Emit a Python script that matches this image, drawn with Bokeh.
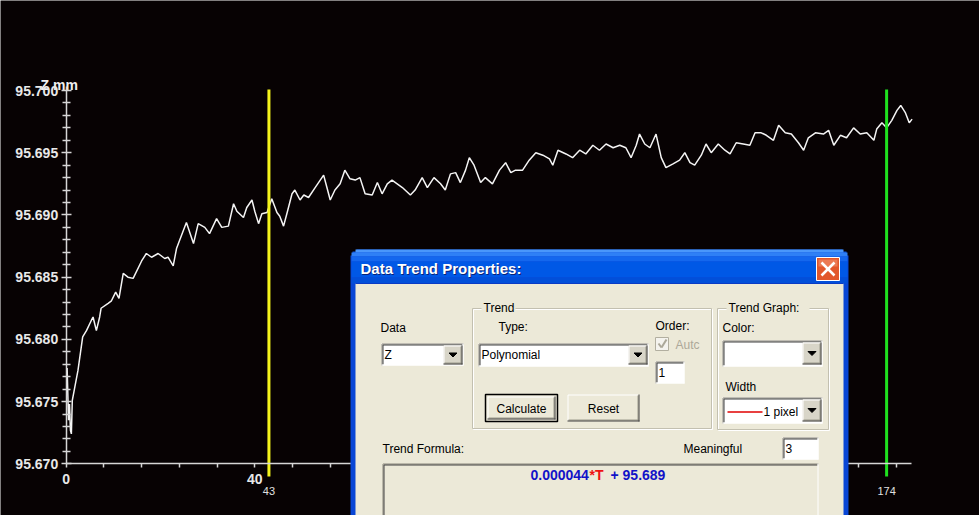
from bokeh.plotting import figure
from bokeh.models import Range1d, LinearAxis, FixedTicker, PrintfTickFormatter
from bokeh.core.properties import value
from bokeh.embed import file_html
from bokeh.resources import INLINE

# ---- measured Z trace (time T, height Z in mm) ----
t = [
    0.2, 0.5, 0.7, 0.9, 1.1, 1.3, 1.7, 2.5, 3.5, 4.3,
    5.3, 5.7, 6.4, 7.1, 7.4, 8.9, 9.6, 10.5, 11.2, 12.1,
    13.1, 14.2, 16.0, 17.0, 18.1, 19.5, 20.9, 21.6, 22.7, 23.4,
    24.0, 25.5, 27.0, 28.0, 29.4, 30.4, 31.9, 33.0, 34.4, 35.5,
    36.2, 37.6, 38.3, 39.4, 40.0, 40.8, 41.5, 42.6, 43.6, 44.7,
    45.3, 46.1, 46.8, 47.9, 48.5, 49.6, 50.4, 51.4, 52.8, 54.6,
    55.3, 56.0, 57.0, 58.1, 59.1, 60.2, 61.3, 62.3, 63.4, 64.9,
    66.0, 67.0, 68.1, 69.1, 71.3, 73.0, 74.0, 75.5, 76.6, 78.0,
    79.4, 80.4, 81.5, 82.6, 83.6, 84.7, 85.5, 86.5, 87.9, 88.9,
    90.4, 91.9, 93.2, 94.3, 95.3, 96.8, 98.2, 99.6, 101.1, 102.5,
    103.2, 104.3, 106.0, 107.4, 108.9, 110.2, 111.7, 113.1, 114.5, 116.0,
    117.4, 118.7, 119.8, 120.9, 121.6, 122.7, 123.8, 125.1, 126.2, 127.2,
    128.7, 130.1, 131.2, 132.3, 133.3, 134.7, 135.7, 136.8, 138.3, 139.7,
    140.8, 142.1, 143.6, 145.0, 146.1, 147.4, 148.5, 150.0, 151.1, 152.5,
    153.8, 155.3, 156.4, 157.4, 158.9, 160.6, 161.7, 162.8, 164.2, 165.5,
    167.0, 168.4, 169.8, 171.3, 171.9, 173.0, 174.0, 175.1, 176.2, 177.0,
    178.0, 178.8, 179.4,
]
z = [
    95.6777, 95.6735, 95.6748, 95.6727, 95.6724, 95.6751, 95.6759, 95.6775, 95.6802, 95.6807,
    95.6815, 95.6818, 95.6807, 95.6818, 95.6825, 95.6829, 95.6831, 95.6838, 95.6833, 95.6853,
    95.6850, 95.6849, 95.6863, 95.6869, 95.6866, 95.6869, 95.6865, 95.6866, 95.6859, 95.6873,
    95.6879, 95.6894, 95.6877, 95.6893, 95.6890, 95.6885, 95.6897, 95.6890, 95.6891, 95.6909,
    95.6903, 95.6898, 95.6906, 95.6912, 95.6903, 95.6893, 95.6901, 95.6902, 95.6913, 95.6902,
    95.6899, 95.6891, 95.6901, 95.6917, 95.6920, 95.6912, 95.6916, 95.6914, 95.6922, 95.6932,
    95.6922, 95.6912, 95.6920, 95.6925, 95.6936, 95.6929, 95.6928, 95.6930, 95.6917, 95.6916,
    95.6926, 95.6917, 95.6925, 95.6928, 95.6922, 95.6916, 95.6920, 95.6930, 95.6922, 95.6930,
    95.6925, 95.6920, 95.6933, 95.6934, 95.6926, 95.6936, 95.6946, 95.6940, 95.6926, 95.6930,
    95.6925, 95.6936, 95.6942, 95.6934, 95.6936, 95.6936, 95.6944, 95.6950, 95.6948, 95.6945,
    95.6940, 95.6952, 95.6949, 95.6946, 95.6952, 95.6949, 95.6956, 95.6952, 95.6957, 95.6954,
    95.6956, 95.6954, 95.6946, 95.6956, 95.6965, 95.6957, 95.6954, 95.6965, 95.6946, 95.6938,
    95.6941, 95.6944, 95.6950, 95.6942, 95.6940, 95.6948, 95.6957, 95.6950, 95.6957, 95.6952,
    95.6949, 95.6958, 95.6957, 95.6956, 95.6966, 95.6966, 95.6964, 95.6960, 95.6972, 95.6966,
    95.6965, 95.6958, 95.6952, 95.6962, 95.6966, 95.6965, 95.6968, 95.6956, 95.6964, 95.6962,
    95.6970, 95.6965, 95.6966, 95.6960, 95.6969, 95.6974, 95.6970, 95.6976, 95.6984, 95.6988,
    95.6982, 95.6974, 95.6977,
]

# cursors
cursor_t = [43, 174]
cursor_text = ["43", "174"]
cursor_color = ["#f4f41c", "#1fe21f"]

# axis ticks
x_major = [0, 40, 80, 120, 160]
x_minor = [8, 16, 24, 32, 48, 56, 64, 72, 88, 96, 104, 112, 128, 136, 144, 152, 168, 176]
y_major = [95.670, 95.675, 95.680, 95.685, 95.690, 95.695, 95.700]
y_minor = [95.671, 95.672, 95.673, 95.674, 95.676, 95.677, 95.678, 95.679,
           95.681, 95.682, 95.683, 95.684, 95.686, 95.687, 95.688, 95.689,
           95.691, 95.692, 95.693, 95.694, 95.696, 95.697, 95.698, 95.699]

# trend result shown in the dialog
trend_slope = "0.000044"
trend_var = "*T"
trend_icpt = "+ 95.689"

BG = "#070203"
FONT = value("Liberation Sans")

p = figure(width=979, height=515, output_backend="svg", toolbar_location=None,
           x_axis_type=None, y_axis_type=None, min_border=0,
           x_range=Range1d(-13.93, 193.7), y_range=Range1d(95.665845, 95.707233))
p.background_fill_color = BG
p.border_fill_color = BG
p.outline_line_color = None
p.extra_x_ranges = {"px": Range1d(0, 979)}
p.extra_y_ranges = {"px": Range1d(515, 0)}

xaxis = LinearAxis(fixed_location=95.670, bounds=(0, 179.3),
                   ticker=FixedTicker(ticks=x_major, minor_ticks=x_minor))
yaxis = LinearAxis(fixed_location=0, bounds=(95.670, 95.7003),
                   ticker=FixedTicker(ticks=y_major, minor_ticks=y_minor),
                   formatter=PrintfTickFormatter(format="%.3f"))
for ax in (xaxis, yaxis):
    ax.axis_line_color = "#d6d6d6"
    ax.axis_line_width = 1.5
    ax.major_tick_line_color = "#d6d6d6"
    ax.minor_tick_line_color = "#d6d6d6"
    ax.major_tick_line_width = 1.5
    ax.minor_tick_line_width = 1.5
    ax.major_label_text_color = "#e8e8e8"
    ax.major_label_text_font = "Liberation Sans"
    ax.major_label_text_font_style = "bold"
    ax.major_label_text_font_size = "14px"
xaxis.major_tick_out, xaxis.major_tick_in = 4, 0
xaxis.minor_tick_out, xaxis.minor_tick_in = 4, 0
xaxis.major_label_standoff = 6
yaxis.major_tick_out, yaxis.major_tick_in = 5, 5
yaxis.minor_tick_out, yaxis.minor_tick_in = 4, 4
yaxis.major_label_standoff = 3
p.add_layout(xaxis, "below")
p.add_layout(yaxis, "left")

# data trace
p.line(t, z, line_color="#f4f4f4", line_width=1.5)

# cursors
for ct, cc in zip(cursor_t, cursor_color):
    p.segment(x0=[ct], y0=[95.70008], x1=[ct], y1=[95.66898], line_color=cc, line_width=3)
p.text(x=cursor_t, y=[95.66785] * 2, text=cursor_text, text_font=FONT,
       text_font_size="11px", text_color="#e0e0e0", text_align="center",
       text_baseline="middle")

PX = dict(x_range_name="px", y_range_name="px")
OV = dict(x_range_name="px", y_range_name="px", level="overlay")

# axis unit caption
p.text(x=[40], y=[84], text=["Z mm"], text_font=FONT, text_font_size="14px",
       text_font_style="bold", text_color="#f0f0f0", text_baseline="middle", **PX)


# ---- dialog window drawn in screen pixels ----
def box(l, t_, r, b, fill, line=None, lw=1):
    p.quad(left=[l], right=[r], top=[t_], bottom=[b], fill_color=fill,
           line_color=line, line_width=lw, **OV)


def seg(x0, y0, x1, y1, color, lw=1):
    p.segment(x0=[x0], y0=[y0], x1=[x1], y1=[y1], line_color=color, line_width=lw, **OV)


def txt(x, y, s, size="12px", color="#000000", bold=False, align="left"):
    p.text(x=[x], y=[y], text=[s], text_font=FONT, text_font_size=size,
           text_color=color, text_font_style="bold" if bold else "normal",
           text_align=align, text_baseline="middle", **OV)


def sunken(l, t_, r, b, fill="#ffffff"):
    box(l, t_, r, b, fill)
    seg(l + .5, t_ + .5, r, t_ + .5, "#8a877c")
    seg(l + .5, t_ + .5, l + .5, b, "#8a877c")
    seg(l + 1.5, t_ + 1.5, r - 1, t_ + 1.5, "#404040")
    seg(l + 1.5, t_ + 1.5, l + 1.5, b - 1, "#404040")
    seg(l, b - .5, r, b - .5, "#ffffff")
    seg(r - .5, t_, r - .5, b, "#ffffff")


def raised(l, t_, r, b, fill="#ece9d8", dark="#404040"):
    box(l, t_, r, b, fill)
    seg(l + .5, t_ + .5, r - 1, t_ + .5, "#ffffff")
    seg(l + .5, t_ + .5, l + .5, b - 1, "#ffffff")
    seg(l + 1, b - 1.5, r - 1, b - 1.5, "#9d9a8c")
    seg(r - 1.5, t_ + 1, r - 1.5, b - 1, "#9d9a8c")
    seg(l, b - .5, r, b - .5, dark)
    seg(r - .5, t_, r - .5, b, dark)


def drop_button(l, t_, r, b):
    raised(l, t_, r, b, fill="#d8d5c8")
    cx, cy = (l + r) / 2, (t_ + b) / 2
    p.patch(x=[cx - 4, cx + 4, cx], y=[cy - 2, cy - 2, cy + 2], fill_color="#000000",
            line_color="#000000", **OV)


def group(l, t_, r, b, label, lx):
    box(l + 1, t_ + 1, r + 1, b + 1, None, line="#ffffff")
    box(l, t_, r, b, None, line="#c3c0b0")
    w = 7.0 * len(label)
    box(lx - 2, t_ - 6, lx + w - 3, t_ + 3, "#ece9d8")
    txt(lx, t_ - 1, label)


# frame and title bar
box(356, 249, 842, 515, "#0a4fdc")
box(352, 251, 846, 515, "#0a4fdc")
box(350, 255, 848, 515, "#0846d6")
for top, bot, col in [(249, 252, "#4a97fb"), (252, 256, "#2f80f6"), (256, 261, "#1467ee"),
                      (261, 277, "#0058e6"), (277, 283, "#024fd9")]:
    box(351 if top > 250 else 355, top, 847 if top > 250 else 843, bot, col)
box(355, 283, 843, 515, "#ece9d8")
seg(355, 283, 843, 283, "#0a3bc4")
txt(361, 269, "Data Trend Properties:", size="15px", color="#0a2378", bold=True)
txt(360, 268, "Data Trend Properties:", size="15px", color="#ffffff", bold=True)

# close button
box(816, 257, 839, 280, "#e2572c", line="#ffffff", lw=1)
box(818, 259, 837, 266, "#ec7a54")
seg(821, 262, 834, 275, "#ffffff", lw=2.5)
seg(834, 262, 821, 275, "#ffffff", lw=2.5)

# data selector
txt(380, 327, "Data")
sunken(381, 343, 463, 365)
txt(384, 354, "Z")
drop_button(443, 345, 462, 364)

# trend group
group(472, 308, 711, 428, "Trend", 483)
txt(498, 326, "Type:")
sunken(478, 343, 648, 366)
txt(481, 354, "Polynomial")
drop_button(628, 345, 647, 364)
txt(655, 325, "Order:")
box(655, 337, 668, 350, "#f4f3ee", line="#b2afa0")
seg(658, 343, 661, 347, "#aca899", lw=2)
seg(661, 347, 666, 339, "#aca899", lw=2)
txt(675, 344, "Autc", color="#aca899")
sunken(655, 361, 684, 383)
txt(658, 372, "1")
box(485, 394, 557, 421, None, line="#000000", lw=1.5)
raised(487, 396, 555, 419)
txt(521, 408, "Calculate", align="center")
raised(567, 394, 639, 421)
txt(603, 408, "Reset", align="center")

# trend graph group
group(717, 308, 828, 429, "Trend Graph:", 728)
txt(722, 327, "Color:")
sunken(722, 340, 822, 366)
drop_button(802, 342, 821, 364)
txt(725, 386, "Width")
sunken(722, 397, 822, 423)
seg(727, 411.5, 762, 411.5, "#e00000", lw=1.5)
txt(763, 411, "1 pixel")
drop_button(802, 399, 821, 421)

# formula area
txt(382, 448, "Trend Formula:")
txt(683, 448, "Meaningful")
sunken(782, 437, 818, 459)
txt(785, 448, "3")
sunken(382, 463, 818, 530, fill="#ece9d8")
txt(530, 474, trend_slope, size="14px", color="#1212c8", bold=True)
txt(589, 474, trend_var, size="14px", color="#ee1111", bold=True)
txt(610, 474, trend_icpt, size="14px", color="#1212c8", bold=True)

open("out.html", "w").write(file_html(p, INLINE))
